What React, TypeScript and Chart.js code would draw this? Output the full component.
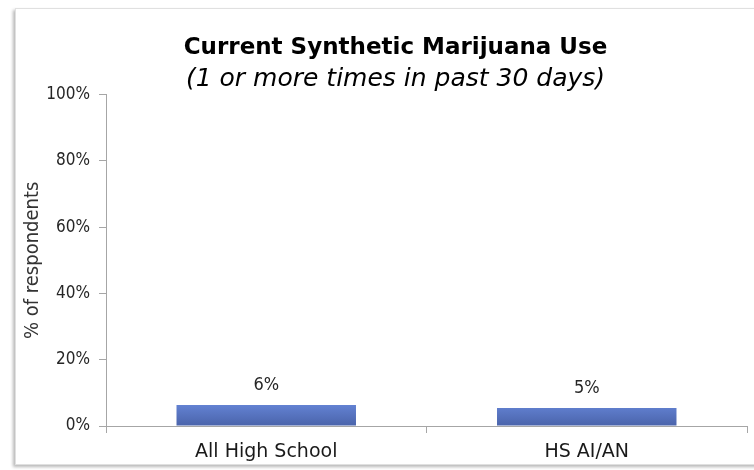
import React, { useEffect, useRef } from "react";
import { Chart, registerables } from "chart.js";

Chart.register(...registerables);

const categories = ["All High School", "HS AI/AN"];
const values = [6.3, 5.4];
const yTicks = [0, 20, 40, 60, 80, 100];
const titleText = "Current Synthetic Marijuana Use";
const subtitleText = "(1 or more times in past 30 days)";
const yTitle = "% of respondents";

const FONT = '"DejaVu Sans Condensed", "Liberation Sans Narrow", "DejaVu Sans", sans-serif';
const WIDE = '"DejaVu Sans", Verdana, sans-serif';

const valueLabels = {
  id: "valueLabels",
  afterDatasetsDraw(chart: any) {
    const ctx = chart.ctx;
    const meta = chart.getDatasetMeta(0);
    ctx.save();
    ctx.font = `18px ${FONT}`;
    ctx.fillStyle = "#262626";
    ctx.textAlign = "center";
    ctx.textBaseline = "middle";
    meta.data.forEach((bar: any, i: number) => {
      const v = chart.data.datasets[0].data[i];
      ctx.fillText(`${Math.round(v)}%`, bar.x, bar.y - 20);
    });
    ctx.restore();
  },
};

export default function App() {
  const ref = useRef<HTMLCanvasElement | null>(null);

  useEffect(() => {
    if (!ref.current) return;
    const chart = new Chart(ref.current, {
      type: "bar",
      data: {
        labels: categories,
        datasets: [
          {
            data: values,
            backgroundColor: (c: any) => {
              const ch = c.chart;
              if (!ch.chartArea || !ch.scales.y) return "#5572c4";
              const y0 = ch.scales.y.getPixelForValue(0);
              const y1 = ch.scales.y.getPixelForValue(7);
              const g = ch.ctx.createLinearGradient(0, y1, 0, y0);
              g.addColorStop(0, "#6585d6");
              g.addColorStop(1, "#4a63aa");
              return g;
            },
            borderWidth: 0,
            barPercentage: 0.56,
            categoryPercentage: 1,
          },
        ],
      },
      options: {
        animation: false,
        responsive: false,
        maintainAspectRatio: false,
        layout: { padding: { left: 44, right: 7, top: 0, bottom: 0 } },
        plugins: {
          legend: { display: false },
          tooltip: { enabled: false },
          title: {
            display: true,
            text: titleText,
            color: "#000",
            font: { family: WIDE, size: 23, weight: "bold" },
            padding: { top: 34, bottom: 0 },
          },
          subtitle: {
            display: true,
            text: subtitleText,
            color: "#000",
            font: { family: WIDE, size: 25, style: "italic" },
            padding: { top: 3, bottom: 0 },
          },
        },
        scales: {
          x: {
            afterFit: (s: any) => {
              s.height = 44;
            },
            border: { display: true, color: "#a6a6a6" },
            grid: {
              display: true,
              offset: true,
              drawOnChartArea: false,
              drawTicks: true,
              tickLength: 7,
              color: "#a6a6a6",
            },
            ticks: {
              color: "#1a1a1a",
              padding: 8,
              font: { family: WIDE, size: 19 },
            },
          },
          y: {
            min: 0,
            max: 100,
            afterFit: (s: any) => {
              s.width = 62;
            },
            afterBuildTicks: (s: any) => {
              s.ticks = yTicks.map((v) => ({ value: v }));
            },
            border: { display: true, color: "#a6a6a6" },
            grid: {
              display: true,
              drawOnChartArea: false,
              drawTicks: true,
              tickLength: 7,
              color: "#a6a6a6",
            },
            ticks: {
              color: "#262626",
              padding: 9,
              font: { family: FONT, size: 17 },
              callback: (v: any) => `${v}%`,
            },
            title: {
              display: true,
              text: yTitle,
              color: "#333",
              font: { family: FONT, size: 20 },
              padding: { top: -23, bottom: 0 },
            },
          },
        },
      },
      plugins: [valueLabels],
    });
    return () => chart.destroy();
  }, []);

  return (
    <div
      style={{
        position: "fixed",
        left: 0,
        top: 0,
        width: 754,
        height: 470,
        overflow: "hidden",
        background: "#fff",
      }}
    >
      <div
        style={{
          position: "absolute",
          left: 15,
          top: 8,
          width: 760,
          height: 455,
          border: "1px solid #e0e0e0",
          boxShadow: "-2px 2px 3px rgba(0,0,0,0.28)",
          background: "#fff",
        }}
      />
      <canvas
        ref={ref}
        width={754}
        height={470}
        style={{ position: "absolute", left: 0, top: 0, width: 754, height: 470 }}
      />
    </div>
  );
}
